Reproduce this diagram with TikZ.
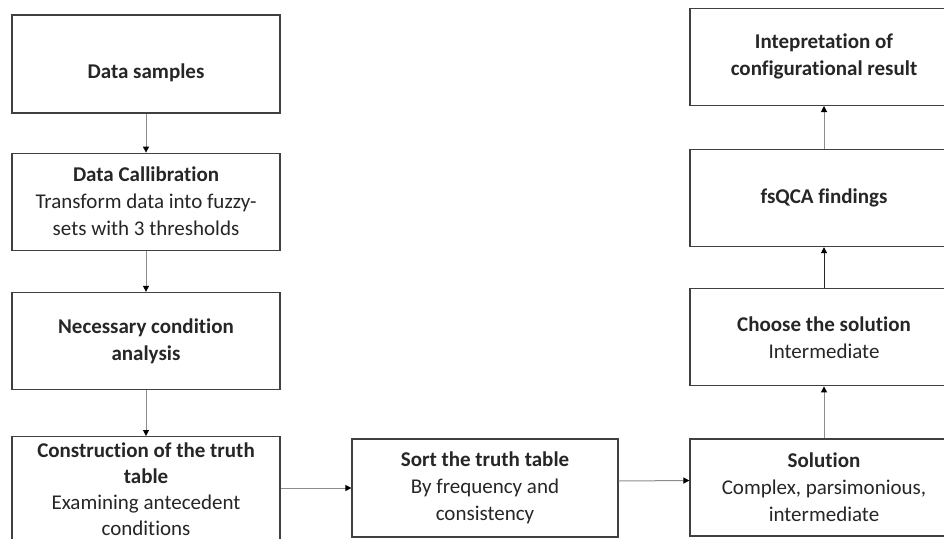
\documentclass[tikz,border=0pt]{standalone}
\usepackage{fontspec}
\setmainfont{Carlito}[Ligatures=NoCommon]
\usepackage{xcolor}
\usepackage{tikz}
\usetikzlibrary{arrows.meta,positioning}
\definecolor{ink}{HTML}{262626}
\definecolor{edge}{HTML}{404040}
\definecolor{wire}{HTML}{8C8C8C}
\tikzset{
  stepbox/.style={draw=edge,line width=1.2pt,fill=white,text=ink,
    minimum width=268pt,minimum height=97pt,inner sep=2pt,align=center,
    font=\fontsize{21}{27}\selectfont},
  tallbox/.style={stepbox,minimum height=106pt,font=\fontsize{21}{26}\selectfont},
  flow/.style={draw=wire,line width=1pt,
    -{Triangle[length=6pt,width=6pt,color=black]}},
  flowk/.style={flow,draw=black!85},
}
\begin{document}
\begin{tikzpicture}[x=1pt,y=-1pt,node distance=40pt]
  \path[use as bounding box,clip] (0,0) rectangle (944,538);
  \fill[white] (0,0) rectangle (944,538);
  % left column, top to bottom
  \node[stepbox,minimum height=98pt] (samples) at (146,64)
    {\raisebox{-9pt}[0.7em][0.2em]{\textbf{Data samples}}};
  \node[stepbox,below=39pt of samples] (calib)
    {\textbf{Data Callibration}\\Transform data into fuzzy-\\sets with 3 thresholds};
  \node[stepbox,below=41pt of calib] (necess)
    {\textbf{Necessary condition}\\\textbf{analysis}};
  \node[tallbox,below=46pt of necess] (truth)
    {\textbf{Construction of the truth}\\\textbf{table}\\Examining antecedent\\conditions};
  % bottom row
  \node[stepbox,minimum width=266pt,minimum height=98pt] (sort) at (485,488)
    {\textbf{Sort the truth table}\\By frequency and\\consistency};
  % right column, bottom to top
  \node[stepbox] (solution) at (824,487.5)
    {\textbf{Solution}\\Complex, parsimonious,\\intermediate};
  \node[stepbox,above=52pt of solution] (choose)
    {\textbf{Choose the solution}\\Intermediate};
  \node[stepbox,above=41pt of choose] (findings) {\textbf{fsQCA findings}};
  \node[stepbox,above=43pt of findings] (interp)
    {\textbf{Intepretation of}\\\textbf{configurational result}};
  \foreach \a/\b in {samples/calib,calib/necess,necess/truth,solution/choose,findings/interp}
    \draw[flow] (\a) -- (\b);
  \draw[flowk] (choose) -- (findings);
  \draw[flow] (truth.east |- sort.west) -- (sort.west);
  \draw[flow] ([yshift=7pt]sort.east) -- ([yshift=7pt]solution.west);
\end{tikzpicture}
\end{document}
